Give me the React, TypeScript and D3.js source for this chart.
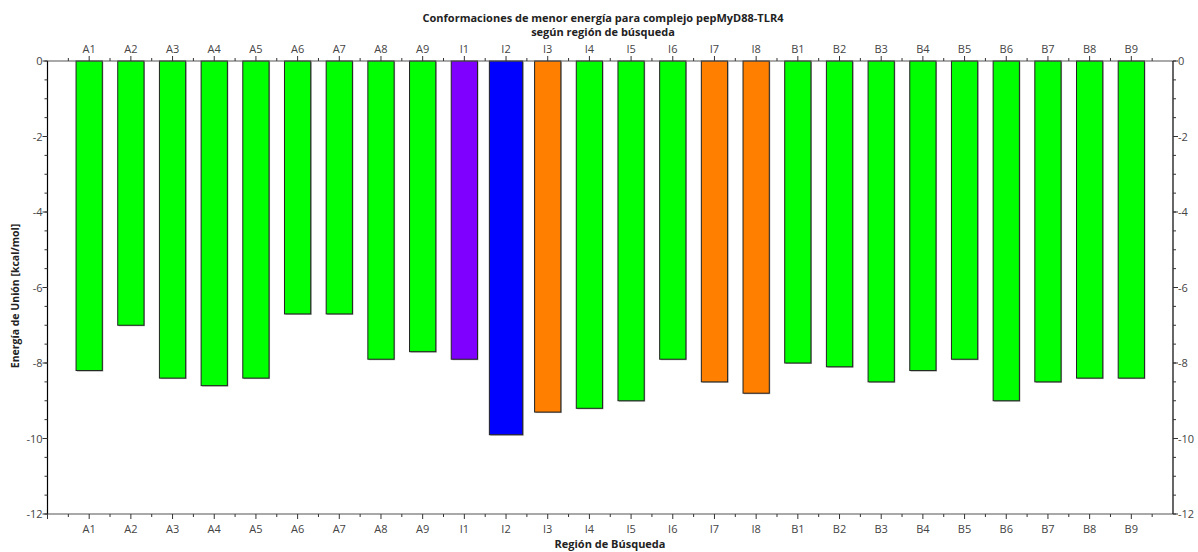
import React from "react";
import * as d3 from "d3";

const regiones = ["A1","A2","A3","A4","A5","A6","A7","A8","A9","I1","I2","I3","I4","I5","I6","I7","I8","B1","B2","B3","B4","B5","B6","B7","B8","B9"];
const energias = [-8.2,-7.0,-8.4,-8.6,-8.4,-6.7,-6.7,-7.9,-7.7,-7.9,-9.9,-9.3,-9.2,-9.0,-7.9,-8.5,-8.8,-8.0,-8.1,-8.5,-8.2,-7.9,-9.0,-8.5,-8.4,-8.4];
const grupos = ["g","g","g","g","g","g","g","g","g","p","b","o","g","g","g","o","o","g","g","g","g","g","g","g","g","g"];
const yTicks = [0,-2,-4,-6,-8,-10,-12];

const colores: Record<string, string> = { g: "#00ff00", p: "#8000ff", b: "#0000ff", o: "#ff8000" };

const W = 1198, H = 552;
const FONT = "'Open Sans', 'DejaVu Sans', sans-serif";

export default function App() {
  const x = d3.scaleLinear().domain([0, regiones.length + 1]).range([47.5, 1173]);
  const y = d3.scaleLinear().domain([0, -12]).range([61, 514]);
  const unit = x(1) - x(0);
  const minorY = d3.range(0, -12.01, -0.5);
  const minorX = d3.range(0.5, regiones.length + 1, 1);
  const [x0, x1] = x.range();
  const [y0, y1] = y.range();
  const tickColor = "#333";

  return (
    <svg width={W} height={H} style={{ position: "absolute", left: 0, top: 0, background: "#fff" }} fontFamily={FONT}>
      <rect width={W} height={H} fill="#fff" />
      {/* title */}
      <text x={603} y={22} textAnchor="middle" fontSize={11} fontWeight="bold" fill="#222">Conformaciones de menor energía para complejo pepMyD88-TLR4</text>
      <text x={603} y={36} textAnchor="middle" fontSize={11} fontWeight="bold" fill="#222">según región de búsqueda</text>

      {/* bars */}
      {regiones.map((r, i) => {
        const w = (grupos[i] === "b" ? 0.8 : 0.63) * unit;
        const cx = x(i + 1);
        const top = y(0);
        const bot = y(energias[i]);
        return (
          <g key={r}>
            <rect x={cx - w / 2 + 1} y={top + 1} width={w} height={bot - top} fill="#aaa" />
            <rect x={cx - w / 2} y={top} width={w} height={bot - top} fill={colores[grupos[i]]} stroke="#222" strokeWidth={1} />
          </g>
        );
      })}

      {/* axes lines */}
      <line x1={x0} x2={x1} y1={y0} y2={y0} stroke="#555" strokeWidth={1.2} />
      <line x1={x0} x2={x1} y1={y1} y2={y1} stroke="#555" strokeWidth={1.2} />
      <line x1={x0} x2={x0} y1={y0} y2={y1} stroke="#000" strokeWidth={1.2} />
      <line x1={x1} x2={x1} y1={y0} y2={y1} stroke="#000" strokeWidth={1.2} />

      {/* x ticks */}
      {regiones.map((r, i) => (
        <g key={"xt" + r}>
          <line x1={x(i + 1)} x2={x(i + 1)} y1={y0} y2={y0 - 5} stroke={tickColor} />
          <line x1={x(i + 1)} x2={x(i + 1)} y1={y1} y2={y1 + 5} stroke={tickColor} />
          <text x={x(i + 1)} y={53} textAnchor="middle" fontSize={11} fill="#444">{r}</text>
          <text x={x(i + 1)} y={533} textAnchor="middle" fontSize={11} fill="#444">{r}</text>
        </g>
      ))}
      <line x1={x0} x2={x0} y1={y1} y2={y1 + 5} stroke={tickColor} />
      {minorX.map((v) => (
        <g key={"mx" + v}>
          <line x1={x(v)} x2={x(v)} y1={y0} y2={y0 - 3} stroke={tickColor} />
          <line x1={x(v)} x2={x(v)} y1={y1} y2={y1 + 3} stroke={tickColor} />
        </g>
      ))}

      {/* y ticks */}
      {minorY.map((v) => (
        <g key={"my" + v}>
          <line x1={x0} x2={x0 - 3} y1={y(v)} y2={y(v)} stroke={tickColor} />
          <line x1={x1} x2={x1 + 3} y1={y(v)} y2={y(v)} stroke={tickColor} />
        </g>
      ))}
      {yTicks.map((v) => (
        <g key={"yt" + v}>
          <line x1={x0} x2={x0 - 5} y1={y(v)} y2={y(v)} stroke={tickColor} />
          <line x1={x1} x2={x1 + 5} y1={y(v)} y2={y(v)} stroke={tickColor} />
          <text x={x0 - 5} y={y(v) + 4} textAnchor="end" fontSize={11} fill="#444">{v === 0 ? "0" : "-" + Math.abs(v)}</text>
          <text x={x1 + 5} y={y(v) + 4} textAnchor="start" fontSize={11} fill="#444">{v === 0 ? "0" : "-" + Math.abs(v)}</text>
        </g>
      ))}

      {/* axis titles */}
      <text x={610} y={548} textAnchor="middle" fontSize={11} fontWeight="bold" fill="#222">Región de Búsqueda</text>
      <text transform={`translate(19,296) rotate(-90)`} textAnchor="middle" fontSize={10.5} fontWeight="bold" fill="#222">Energía de Unión [kcal/mol]</text>
    </svg>
  );
}
